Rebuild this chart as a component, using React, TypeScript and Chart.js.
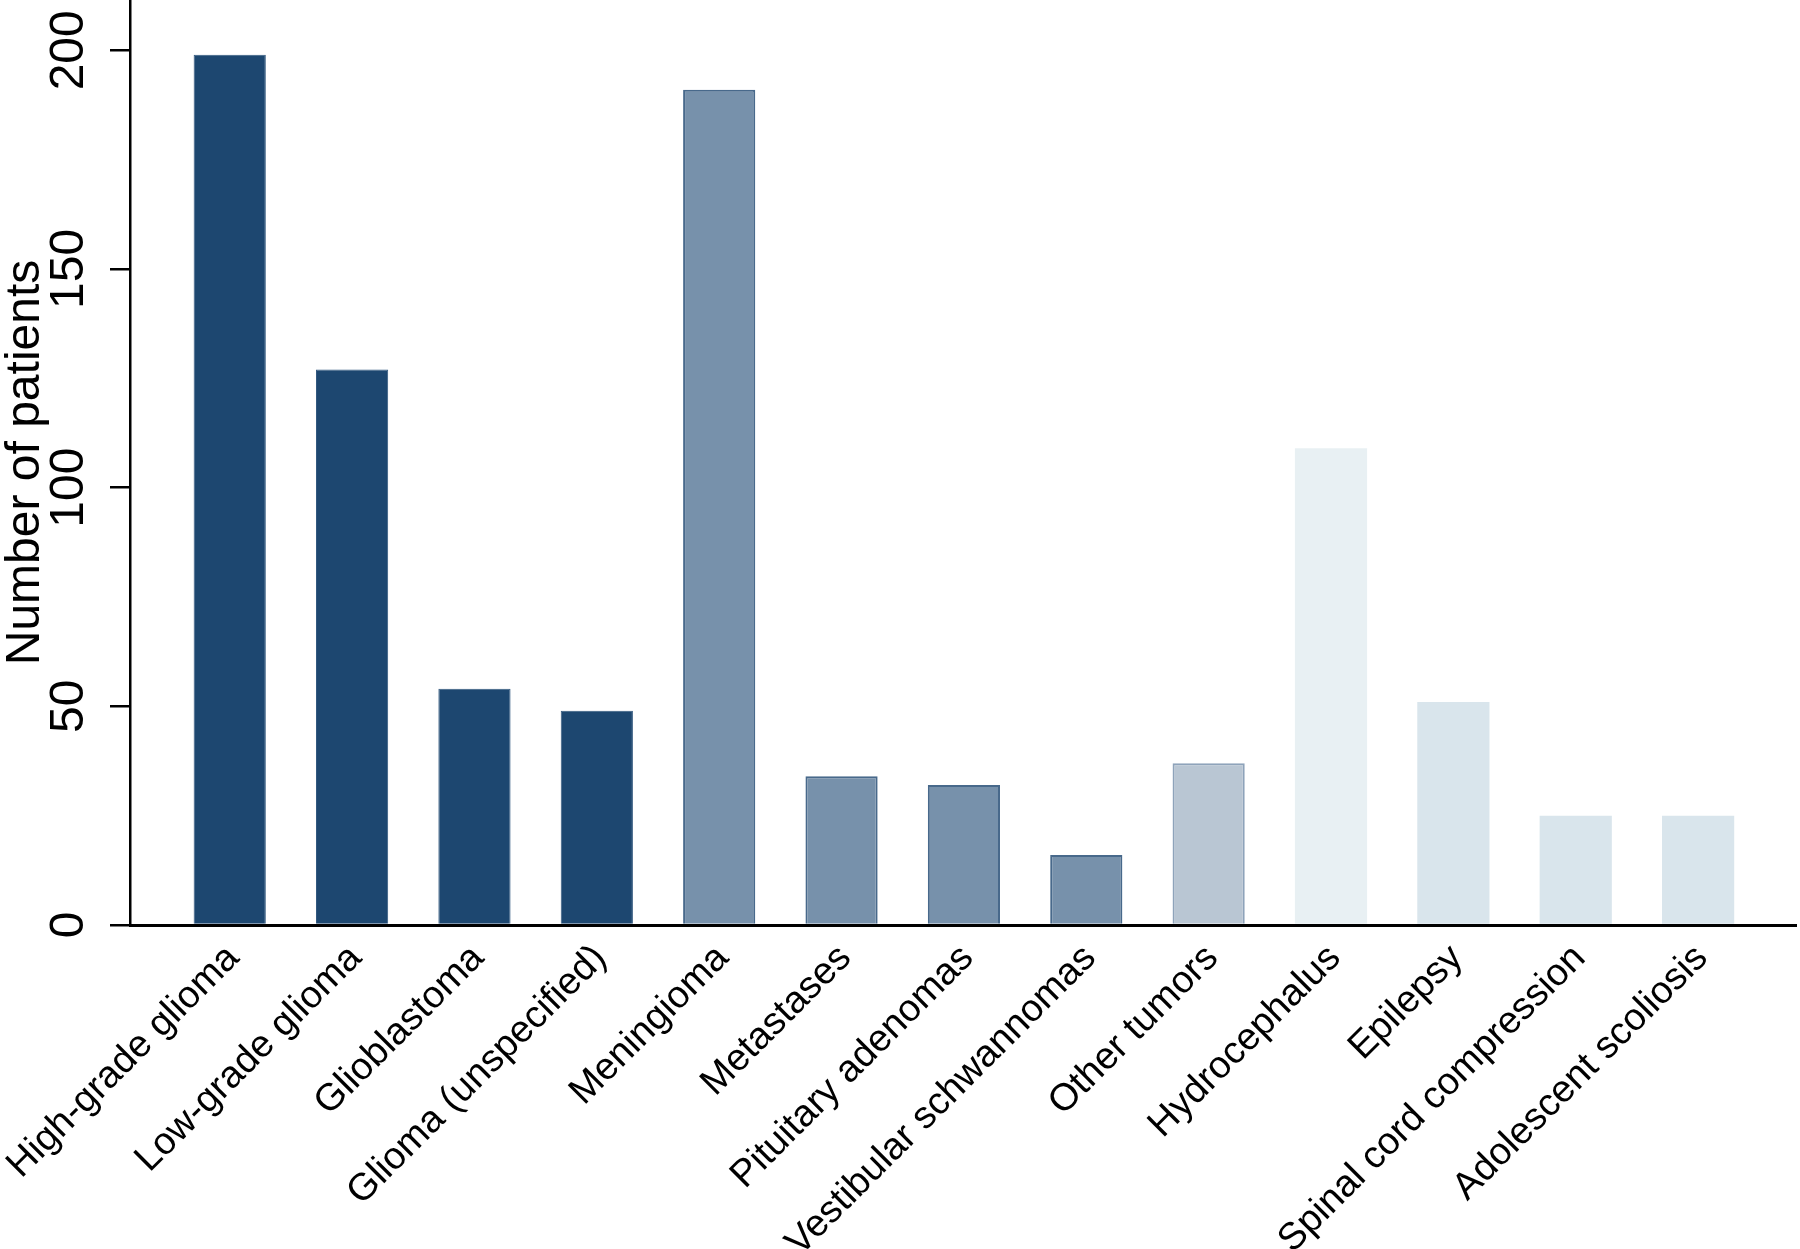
import React, { useEffect, useRef } from "react";
import { Chart, registerables } from "chart.js";

Chart.register(...registerables);

// ---- data ----
const categories = [
  "High-grade glioma",
  "Low-grade glioma",
  "Glioblastoma",
  "Glioma (unspecified)",
  "Meningioma",
  "Metastases",
  "Pituitary adenomas",
  "Vestibular schwannomas",
  "Other tumors",
  "Hydrocephalus",
  "Epilepsy",
  "Spinal cord compression",
  "Adolescent scoliosis",
];
const patients = [199, 127, 54, 49, 191, 34, 32, 16, 37, 109, 51, 25, 25];
const yTickValues = [0, 50, 100, 150, 200];
const yAxisMax = 211.5;
const yTitle = "Number of patients";
// colour group of each category
const colorGroup = [0, 0, 0, 0, 1, 1, 1, 1, 2, 3, 4, 4, 4];

// ---- styles ----
const fillColors = ["#1d4770", "#7791ab", "#b9c6d3", "#e8f0f3", "#d9e5ec"];
const edgeColors = ["#33597f", "#48698b", "#8ea3ba", "#e8f0f3", "#d9e5ec"];
const edgeWidths = [1, 2, 2, 0, 0];
const FONT = "'Liberation Sans', Arial, sans-serif";

export default function App() {
  const canvasRef = useRef<HTMLCanvasElement | null>(null);

  useEffect(() => {
    if (!canvasRef.current) return;
    const chart = new Chart(canvasRef.current, {
      type: "bar",
      data: {
        datasets: [
          {
            data: categories.map((_, i) => ({ x: i, y: patients[i] })) as any,
            backgroundColor: colorGroup.map((g) => fillColors[g]),
            borderColor: colorGroup.map((g) => edgeColors[g]),
            borderWidth: colorGroup.map((g) => edgeWidths[g]),
            borderSkipped: "bottom",
            barPercentage: 0.59,
            categoryPercentage: 1,
          },
        ],
      },
      options: {
        animation: false,
        responsive: true,
        maintainAspectRatio: false,
        layout: { padding: { left: 0, right: 4, top: 0, bottom: 0 } },
        plugins: {
          legend: { display: false },
          tooltip: { enabled: false },
        },
        scales: {
          x: {
            type: "linear",
            min: -0.815,
            max: 12.8,
            bounds: "data",
            offset: false,
            afterBuildTicks: (s: any) => {
              s.ticks = categories.map((_, i) => ({ value: i + 0.03 }));
            },
            afterFit: (s: any) => {
              s.height = 324;
              s.paddingLeft = 0;
              s.paddingRight = 0;
            },
            ticks: {
              autoSkip: false,
              minRotation: 45,
              maxRotation: 45,
              padding: 11,
              color: "#000",
              font: { family: FONT, size: 38 },
              callback: (_v: any, idx: number) => categories[idx],
            },
            grid: { display: true, offset: false, drawOnChartArea: false, drawTicks: false },
            border: { display: true, color: "#000", width: 3 },
          },
          y: {
            min: 0,
            max: yAxisMax,
            bounds: "data",
            afterBuildTicks: (s: any) => {
              s.ticks = yTickValues.map((v) => ({ value: v }));
            },
            afterFit: (s: any) => {
              s.width = 130;
              s.paddingTop = 0;
              s.paddingBottom = 0;
            },
            ticks: {
              minRotation: 90,
              maxRotation: 90,
              crossAlign: "center",
              padding: 0,
              color: "#000",
              font: { family: FONT, size: 48 },
            },
            grid: {
              drawOnChartArea: false,
              drawTicks: true,
              tickLength: 20,
              lineWidth: 2.5,
              color: "#000",
            },
            border: { display: true, color: "#000", width: 2.5 },
            title: {
              display: true,
              text: yTitle,
              color: "#000",
              font: { family: FONT, size: 48, lineHeight: 1 },
              padding: { top: 2, bottom: 0 },
            },
          },
        },
      } as any,
    });
    return () => chart.destroy();
  }, []);

  return (
    <div
      style={{
        position: "absolute",
        left: 0,
        top: 0,
        width: 1800,
        height: 1249,
        background: "#fff",
      }}
    >
      <canvas ref={canvasRef} />
    </div>
  );
}
